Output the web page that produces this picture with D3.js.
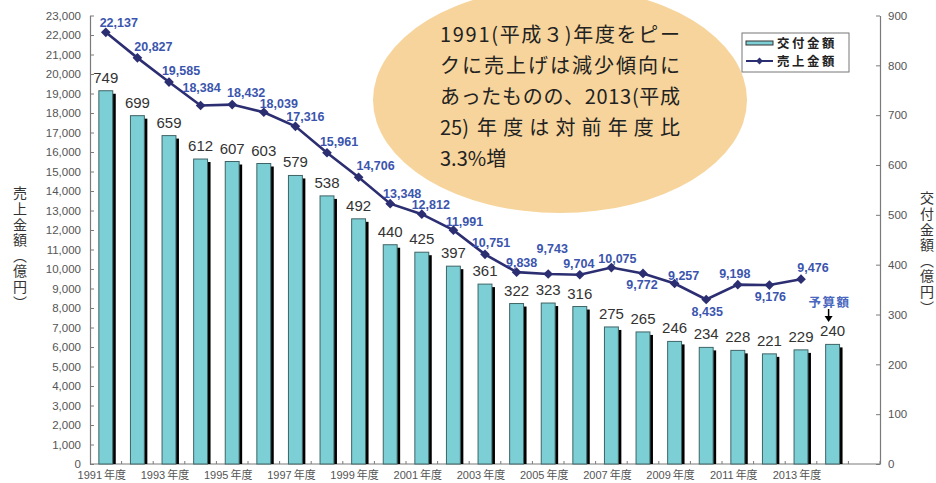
<!DOCTYPE html>
<html><head><meta charset="utf-8">
<script src="https://cdn.jsdelivr.net/npm/d3@7/dist/d3.min.js"></script>
<style>
html,body{margin:0;padding:0;background:#fff;}
svg{display:block;}
</style></head>
<body>
<svg id="chart" width="936" height="483"></svg>
<script>
// ---- data ----
const years = ["1991","1992","1993","1994","1995","1996","1997","1998","1999","2000","2001","2002","2003","2004","2005","2006","2007","2008","2009","2010","2011","2012","2013","2014"];
const grantValues = [749,699,659,612,607,603,579,538,492,440,425,397,361,322,323,316,275,265,246,234,228,221,229,240];
const salesYears = years.slice(0,23);
const salesValues = [22137,20827,19585,18384,18432,18039,17316,15961,14706,13348,12812,11991,10751,9838,9743,9704,10075,9772,9257,8435,9198,9176,9476];
const leftTicks = d3.range(0,23001,1000);
const rightTicks = [0,100,200,300,400,500,600,700,800,900];
const xLabelYears = ["1991","1993","1995","1997","1999","2001","2003","2005","2007","2009","2011","2013"];
const leftTitle = "売上金額（億円）";
const rightTitle = "交付金額（億円）";
const noteLines = ["1991(平成３)年度をピー","クに売上げは減少傾向に","あったものの、2013(平成",["25)","年度は対前年度比"],"3.3%増"];
const legendNames = ["交付金額","売上金額"];
const budgetNote = "予算額";
// label placement (layout only): offset of sales label centre from its point
const salesLabelOffset = {
  "1991":[13,-10],"1992":[16,-11],"1993":[12,-12],"1994":[1,-18],"1995":[14,-12],"1996":[15,-9],
  "1997":[10,-10],"1998":[12,-11],"1999":[17,-12],"2000":[12,-10],"2001":[9,-10],"2002":[11,-9],
  "2003":[6,-12],"2004":[5,-10],"2005":[4,-26],"2006":[-1,-11],"2007":[6,-9],"2008":[-1,11],
  "2009":[9,-8],"2010":[1,12],"2011":[-3,-11],"2012":[1,11],"2013":[12,-12]
};

// ---- layout ----
const L = 90, R = 880, T = 15.5, B = 464;
const svg = d3.select("#chart");
const x = d3.scaleBand().domain(years.concat(["_"])).range([L,R]).padding(0);
const step = x.step();
const cx = d => x(d) + step/2;
const yL = d3.scaleLinear().domain([0,23000]).range([B,T]);
const yR = d3.scaleLinear().domain([0,900]).range([B,T]);
const fmt = d3.format(",");

const JP = "'Noto Sans CJK JP', sans-serif";
const LAT = "'Liberation Sans', Arial, sans-serif";
const barFill = "#7dcfd6", lineCol = "#2c2e72", labCol = "#3b55ae";

// ---- bubble ----
svg.append("ellipse").attr("cx",560).attr("cy",100).attr("rx",187).attr("ry",113).attr("fill","#f6d49b");
const noteG = svg.append("g").attr("font-family",JP).attr("font-size",20).attr("fill","#222");
noteLines.forEach((t,i)=>{
  const y = 42 + i*31;
  if(Array.isArray(t)){
    noteG.append("text").attr("x",440).attr("y",y).text(t[0]);
    noteG.append("text").attr("x",477).attr("y",y).attr("textLength",203).attr("lengthAdjust","spacing").text(t[1]);
  } else {
    const tx = noteG.append("text").attr("x",440).attr("y",y).text(t);
    if(i<4) tx.attr("textLength",240).attr("lengthAdjust","spacing");
  }
});

// ---- axes ----
const axisCol = "#7a7a7a";
const gL = svg.append("g").attr("transform",`translate(${L},0)`)
  .call(d3.axisLeft(yL).tickValues(leftTicks).tickFormat(fmt).tickSizeInner(-4).tickSizeOuter(0).tickPadding(9));
const gR = svg.append("g").attr("transform",`translate(${R},0)`)
  .call(d3.axisRight(yR).tickValues(rightTicks).tickSizeInner(-4).tickSizeOuter(0).tickPadding(8));
[gL,gR].forEach(g=>{
  g.select(".domain").attr("stroke",axisCol).attr("stroke-width",1.2);
  g.selectAll(".tick line").attr("stroke",axisCol);
  g.selectAll(".tick text").attr("font-family",LAT).attr("font-size",11.5).attr("fill","#555");
});
// bottom axis
svg.append("line").attr("x1",L).attr("x2",R).attr("y1",B).attr("y2",B).attr("stroke",axisCol).attr("stroke-width",1.2);
svg.append("g").selectAll("line").data(years.concat(["_"])).join("line")
  .attr("x1",d=>x(d)+step).attr("x2",d=>x(d)+step).attr("y1",B).attr("y2",B-3).attr("stroke",axisCol);
svg.append("g").selectAll("text").data(xLabelYears).join("text")
  .attr("x",d=>cx(d)-4).attr("y",479).attr("text-anchor","middle").attr("font-size",11).attr("fill","#555")
  .each(function(d){
    const t = d3.select(this);
    t.append("tspan").attr("font-family",LAT).text(d);
    t.append("tspan").attr("font-family",JP).attr("dx",2).text("年度");
  });

// axis titles (vertical writing)
[[leftTitle,20,186],[rightTitle,927,191]].forEach(([t,tx,ty])=>{
  svg.append("text").attr("x",tx).attr("y",ty)
    .style("writing-mode","vertical-rl").style("text-orientation","upright")
    .attr("font-family",JP).attr("font-size",14).attr("letter-spacing",1.6).attr("fill","#333").text(t);
});

// ---- bars ----
const bw = step*0.44;
const bars = svg.append("g");
bars.selectAll("rect.sh").data(grantValues).join("rect").attr("class","sh")
  .attr("x",(d,i)=>cx(years[i])-bw/2+3).attr("y",d=>yR(d)+3).attr("width",bw).attr("height",d=>B-yR(d)-3)
  .attr("fill","#000");
bars.selectAll("rect.bar").data(grantValues).join("rect").attr("class","bar")
  .attr("x",(d,i)=>cx(years[i])-bw/2).attr("y",d=>yR(d)).attr("width",bw).attr("height",d=>B-yR(d))
  .attr("fill",barFill).attr("stroke","#3f6466").attr("stroke-width",1);
bars.selectAll("text").data(grantValues).join("text")
  .attr("x",(d,i)=>cx(years[i])).attr("y",d=>yR(d)-8).attr("text-anchor","middle")
  .attr("font-family",LAT).attr("font-size",15).attr("fill","#333").text(d=>d);

// budget note
const lastYear = years[years.length-1];
svg.append("text").attr("x",cx(lastYear)-3).attr("y",307).attr("text-anchor","middle")
  .attr("font-family",JP).attr("font-size",12.5).attr("font-weight","bold").attr("letter-spacing",1.5)
  .attr("fill","#4a68c0").text(budgetNote);
svg.append("line").attr("x1",cx(lastYear)-4).attr("x2",cx(lastYear)-4).attr("y1",309).attr("y2",317)
  .attr("stroke","#000").attr("stroke-width",1.5);
svg.append("path").attr("d",`M${cx(lastYear)-8},316 L${cx(lastYear)},316 L${cx(lastYear)-4},322 Z`).attr("fill","#000");

// ---- line ----
const lineG = svg.append("g");
lineG.append("path").datum(salesValues)
  .attr("d",d3.line().x((d,i)=>cx(salesYears[i])).y(d=>yL(d)))
  .attr("fill","none").attr("stroke",lineCol).attr("stroke-width",2.6);
lineG.selectAll("path.m").data(salesValues).join("path").attr("class","m")
  .attr("transform",(d,i)=>`translate(${cx(salesYears[i])},${yL(d)})`)
  .attr("d",d3.symbol(d3.symbolDiamond2,60)).attr("fill",lineCol);
lineG.selectAll("text").data(salesValues).join("text")
  .attr("x",(d,i)=>cx(salesYears[i])+salesLabelOffset[salesYears[i]][0])
  .attr("y",(d,i)=>yL(d)+salesLabelOffset[salesYears[i]][1]).attr("dy","0.36em")
  .attr("text-anchor","middle").attr("font-family",LAT).attr("font-weight","bold").attr("font-size",12.5)
  .attr("fill",labCol).text(d=>fmt(d));

// ---- legend ----
const lg = svg.append("g");
lg.append("rect").attr("x",742).attr("y",33).attr("width",107).attr("height",39).attr("fill","#fff").attr("stroke","#777");
lg.append("rect").attr("x",746).attr("y",41).attr("width",27).attr("height",4).attr("fill",barFill).attr("stroke","#333");
lg.append("line").attr("x1",746).attr("x2",773).attr("y1",61).attr("y2",61).attr("stroke",lineCol).attr("stroke-width",2);
lg.append("path").attr("transform","translate(759.5,61)").attr("d",d3.symbol(d3.symbolDiamond2,30)).attr("fill",lineCol);
lg.selectAll("text").data(legendNames).join("text")
  .attr("x",777).attr("y",(d,i)=>47.5+i*18.5)
  .attr("font-family",JP).attr("font-weight","bold").attr("font-size",12.4).attr("letter-spacing",2.6)
  .attr("fill","#222").text(d=>d);
</script>
</body></html>
